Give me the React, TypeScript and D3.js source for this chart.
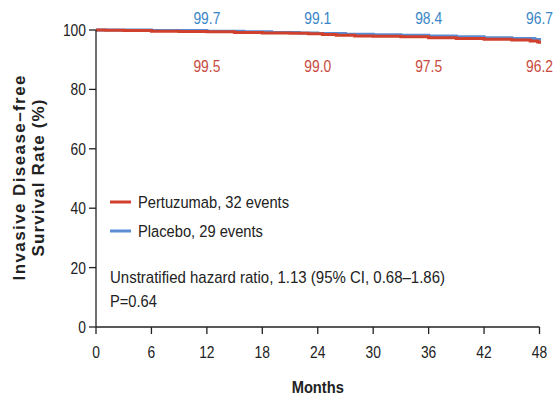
import React from "react";
import * as d3 from "d3";

const xTicks = [0, 6, 12, 18, 24, 30, 36, 42, 48];
const yTicks = [0, 20, 40, 60, 80, 100];

const pertuzumabTimes = [0, 1, 3, 6, 9, 12, 15, 18, 21, 23, 24.5, 26, 28, 30, 33, 36, 39, 42, 45, 47, 47.8, 48];
const pertuzumabSurv = [100, 99.9, 99.8, 99.6, 99.5, 99.4, 99.2, 99.0, 98.9, 98.7, 98.5, 98.2, 98.0, 97.9, 97.7, 97.4, 97.1, 96.9, 96.6, 96.3, 96.0, 95.4];
const placeboTimes = [0, 6, 12, 16, 19, 22, 24, 27, 30, 33, 36, 39, 42, 45, 47.5, 48];
const placeboSurv = [100, 99.8, 99.6, 99.4, 99.2, 99.0, 98.8, 98.6, 98.4, 98.2, 98.0, 97.7, 97.4, 97.1, 96.8, 96.5];

const labelMonths = [12, 24, 36, 48];
const placeboLabels = ["99.7", "99.1", "98.4", "96.7"];
const pertuzumabLabels = ["99.5", "99.0", "97.5", "96.2"];

const RED = "#d0402c";
const BLUE = "#5a8dd3";
const RED_TEXT = "#c84a3e";
const BLUE_TEXT = "#3a86c6";
const FONT = "'Liberation Sans', Arial, sans-serif";
const SX = 0.865;

function T(props: { x: number; y: number; size: number; anchor?: string; fill?: string; bold?: boolean; sx?: number; children: React.ReactNode }) {
  const { x, y, size, anchor = "start", fill = "#222", bold = false, sx = SX, children } = props;
  return (
    <text
      transform={`translate(${x},${y}) scale(${sx},1)`}
      textAnchor={anchor as any}
      fontSize={size}
      fontWeight={bold ? "bold" : "normal"}
      fill={fill}
    >
      {children}
    </text>
  );
}

export default function App() {
  const W = 554, H = 396;
  const x = d3.scaleLinear().domain([0, 48]).range([96, 539.5]);
  const y = d3.scaleLinear().domain([0, 100]).range([327, 30]);
  const line = d3.line<[number, number]>().x(d => x(d[0])).y(d => y(d[1])).curve(d3.curveStepAfter);
  const red: [number, number][] = pertuzumabTimes.map((t, i) => [t, pertuzumabSurv[i]]);
  const blue: [number, number][] = placeboTimes.map((t, i) => [t, placeboSurv[i]]);

  return (
    <svg width={W} height={H} style={{ position: "absolute", left: 0, top: 0, background: "#fff" }} fontFamily={FONT}>
      {/* curves */}
      <path d={line(blue) || ""} fill="none" stroke={BLUE} strokeWidth={3} />
      <path d={line(red) || ""} fill="none" stroke={RED} strokeWidth={3} />

      {/* axes */}
      <line x1={x(0)} x2={x(0)} y1={y(100)} y2={y(0)} stroke="#222" strokeWidth={1.3} />
      <line x1={x(0)} x2={x(48)} y1={y(0)} y2={y(0)} stroke="#222" strokeWidth={1.3} />
      {yTicks.map(t => (
        <g key={"y" + t}>
          <line x1={x(0) - 7} x2={x(0)} y1={y(t)} y2={y(t)} stroke="#222" strokeWidth={1.3} />
          <T x={x(0) - 10} y={y(t) + 6} size={16} anchor="end">{t}</T>
        </g>
      ))}
      {xTicks.map(t => (
        <g key={"x" + t}>
          <line x1={x(t)} x2={x(t)} y1={y(0)} y2={y(0) + 7} stroke="#222" strokeWidth={1.3} />
          <T x={x(t)} y={y(0) + 31} size={16} anchor="middle">{t}</T>
        </g>
      ))}

      {/* value labels */}
      {labelMonths.map((m, i) => (
        <T key={"b" + m} x={x(m)} y={24} size={16} anchor="middle" fill={BLUE_TEXT}>{placeboLabels[i]}</T>
      ))}
      {labelMonths.map((m, i) => (
        <T key={"r" + m} x={x(m)} y={71.5} size={16} anchor="middle" fill={RED_TEXT}>{pertuzumabLabels[i]}</T>
      ))}

      {/* legend */}
      <line x1={110} x2={131} y1={202} y2={202} stroke={RED} strokeWidth={3} />
      <T x={138} y={208} size={17}>Pertuzumab, 32 events</T>
      <line x1={110} x2={131} y1={231} y2={231} stroke={BLUE} strokeWidth={3} />
      <T x={138} y={237} size={17}>Placebo, 29 events</T>
      <text x={110} y={283} fontSize={17} fill="#222" textLength={335} lengthAdjust="spacingAndGlyphs">Unstratified hazard ratio, 1.13 (95% CI, 0.68–1.86)</text>
      <T x={110} y={307} size={17}>P=0.64</T>

      {/* axis titles */}
      <T x={x(24)} y={393} size={17} anchor="middle" bold>Months</T>
      <g transform="translate(25,178) rotate(-90)">
        <text x={0} y={0} textAnchor="middle" fontSize={17} fontWeight="bold" fill="#222" textLength={205} lengthAdjust="spacing">Invasive Disease–free</text>
        <text x={0} y={19} textAnchor="middle" fontSize={17} fontWeight="bold" fill="#222" textLength={157} lengthAdjust="spacing">Survival Rate (%)</text>
      </g>
    </svg>
  );
}
